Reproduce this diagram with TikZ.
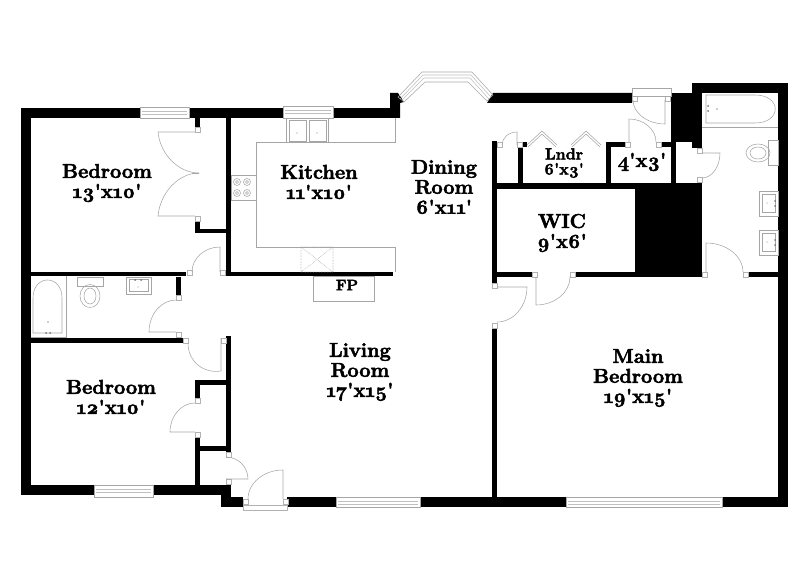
\documentclass[tikz,border=0pt]{standalone}
\usepackage{fontspec}
\setmainfont{Latin Modern Roman}[Numbers=OldStyle,Ligatures=TeXOff,BoldFeatures={FakeBold=2.6}]
\usetikzlibrary{calc}
\tikzset{
    wallpart/.style={fill=black,draw=none},
    fixture/.style={draw=black!35,line width=0.55pt},
    jamb/.style={draw=black!30,fill=white,line width=0.5pt},
    roomlabel/.style={align=center,inner sep=0pt,font=\fontsize{20}{20}\selectfont\bfseries}
}
\begin{document}
\begin{tikzpicture}[x=1pt,y=-1pt]
    \useasboundingbox (0,0) rectangle (809,588);
    % walls
    \foreach \xa/\ya/\xb/\yb in {21/108/140/118,189/108/283/118,333/108/390/118,21/108/31/495,21/485/94/495,153/485/231/495,221/495/231/507,231/497/243/507,287/497/336/507,420/497/566/507,722/497/788/507,778/83/788/507,692/83/788/93,671/93/702/142,692/83/702/148,661/142/671/147,671/142/676/183,697/182/702/189,635/188/702/277,492/183/702/189,574/272/702/277,745/272/778/277,497/272/532/277,492/141/497/283,492/327/497/497,518/146/523/183,523/142/527/147,606/142/611/183,606/142/625/147,195/118/200/127,195/220/200/233,195/229/227/233,226/118/231/272,225/272/393/276,31/272/186/276,176/277/181/295,31/338/183/343,226/336/231/452,195/380/200/398,195/380/226/385,195/437/200/485,195/446/226/451,226/484/231/497}
        \fill[wallpart] (\xa,\ya) rectangle (\xb,\yb);
    \fill[wallpart] (390,108) -- (390,93) -- (398,93) -- (404,102) -- (400,103) -- (400,118) -- (390,118) -- cycle;
    \fill[wallpart] (487,103) -- (493,93) -- (632,93) -- (632,103) -- cycle;
    % door jambs
    \foreach \xa/\ya in {195/127,195/216,220/270,187/270,176/295,176/332,183/338,221/338,195/398,195/432,226/452,226/479,243/499,283/499,492/283,492/323,532/272,570/272,702/272,743/272,697/148,697/177,497/142,517/142,625/142,656/142,632/96,665/96}
        \draw[jamb] (\xa,\ya) rectangle +(5,5);
    % door leaves
    \foreach \hx/\hy/\lx/\ly/\cx/\cy in {195/132/158/132/199/173,195/216/158/216/199/173,220/272/220/247/192/272,176/332/149/332/176/300,221/338/221/371/188/343,195/432/170/432/195/403,226/479/248/479/226/457,283/499/283/470/248/499,497/287/527/287/497/322,536/277/536/305/570/277,706/272/706/243/743/272,702/153/720/153/702/178,629/142/629/119/656/142,665/100/665/124/633/100,517/145/517/132/502/145}
        \draw[fixture] (\hx,\hy) -- (\lx,\ly) .. controls ($(\lx,\ly)+.55*(\cx,\cy)-.55*(\hx,\hy)$) and ($(\cx,\cy)+.55*(\lx,\ly)-.55*(\hx,\hy)$) .. (\cx,\cy);
    \draw[fixture] (192,173) -- (199,173);
    % closet bifolds
    \foreach \xa in {527,571} {
        \draw[fixture] (\xa,145) -- ++(15,-14) -- ++(15,14);
        \draw[fixture] (\xa+1,147) -- ++(14,-13) -- ++(14,13);
    }
    % windows
    \foreach \xa/\xb/\ya/\yb in {140/189/107/118,283/333/106/118,94/153/485/497,336/420/497/507,566/722/497/507} {
        \draw[fixture,fill=white] (\xa,\ya) rectangle (\xb,\yb);
        \draw[fixture,black!25] (\xa+2,\ya+4) -- (\xb-2,\ya+4) (\xa+2,\ya+7) -- (\xb-2,\ya+7);
    }
    \draw[fixture,fill=white] (632,88) rectangle (671,96);
    % threshold of the front door
    \draw[jamb] (243,505) rectangle (287,510);
    % bay window
    \draw[fixture] (398,97) -- (422,72) -- (472,72) -- (493,95) -- (487,101) -- (468,82) -- (425,82) -- (404,102) -- cycle;
    \draw[fixture,black!25] (400,99) -- (423,75) -- (471,75) -- (491,97);
    \draw[fixture,black!25] (402,100) -- (424,78) -- (470,78) -- (489,99);
    % kitchen counters
    \draw[fixture] (395,118) -- (395,142) -- (256,142) -- (256,247) -- (395,247) -- (395,272);
    \draw[fixture] (286,118) rectangle (328,142);
    \draw[fixture] (289,120) rectangle (306,141) (309,120) rectangle (326,141);
    \foreach \xa in {297,317} \fill[black!50] (\xa,133) circle (0.6);
    \draw[fixture] (231,175) rectangle (256,200);
    \foreach \xa/\ya in {237/182,247/182,237/193,247/193} \draw[fixture] (\xa,\ya) circle (3.5) (\xa,\ya) circle (1.5);
    \draw[fixture,densely dotted] (301,247) rectangle (333,272) (301,247) -- (333,272) (301,272) -- (333,247);
    \draw[fixture] (313,276) rectangle (374,301);
    % left bath
    \draw[fixture] (33,333) -- (33,298) .. controls (33,274) and (62,274) .. (62,298) -- (62,333) -- cycle;
    \draw[fixture] (66,276) -- (66,338) (31,337) -- (66,337);
    \foreach \xa in {46,50} \fill[black!55] (\xa,333) circle (1);
    \fill[black!40] (48,322) circle (0.8);
    \draw[fixture] (77,277) rectangle (103,286);
    \draw[fixture] (90,296) ellipse (10 and 11.5) (90,296) ellipse (6 and 8);
    \draw[fixture] (126,277) rectangle (151,294) (129,279) rectangle (148,291);
    \foreach \xa in {135,141} \fill[black!55] (\xa,280) circle (1);
    \fill[black!40] (138,287) circle (0.6);
    % right bath
    \draw[fixture] (706,95) -- (755,95) .. controls (782,95) and (782,123) .. (755,123) -- (706,123) -- cycle;
    \draw[fixture] (702,127) -- (778,127);
    \foreach \ya in {106,111} \fill[black!55] (708,\ya) circle (1);
    \fill[black!40] (717,109) circle (0.8);
    \draw[fixture] (768,140) rectangle (778,165);
    \draw[fixture] (758,153) ellipse (12 and 9) (758,153) ellipse (8 and 6);
    \foreach \ya in {191,230} {
        \draw[fixture] (759,\ya) rectangle (778,\ya+25) (762,\ya+3) rectangle (775,\ya+21);
        \fill[black!55] (775,\ya+10) circle (1) (775,\ya+15) circle (1);
        \fill[black!40] (767,\ya+12) circle (0.6);
    }
    % room labels
    \node[roomlabel] (bedroomtop) at (107,183) {Bedroom\\13'x10'};
    \node[roomlabel] (kitchen) at (319,182) {Kitchen\\11'x10'};
    \node[roomlabel] (dining) at (444,187) {Dining\\Room\\6'x11'};
    \node[roomlabel,font=\fontsize{16}{15}\selectfont\bfseries] (lndr) at (564,163) {Lndr\\6'x3'};
    \node[roomlabel] (bath) at (642,162) {4'x3'};
    \node[roomlabel] (wic) at (562,233) {WIC\\9'x6'};
    \node[roomlabel,font=\fontsize{15}{15}\selectfont\bfseries] (fp) at (347,285) {FP};
    \node[roomlabel] (living) at (360,372) {Living\\Room\\17'x15'};
    \node[roomlabel] (main) at (638,378) {Main\\Bedroom\\19'x15'};
    \node[roomlabel] (bedroomlow) at (111,397) {Bedroom\\12'x10'};
\end{tikzpicture}
\end{document}
